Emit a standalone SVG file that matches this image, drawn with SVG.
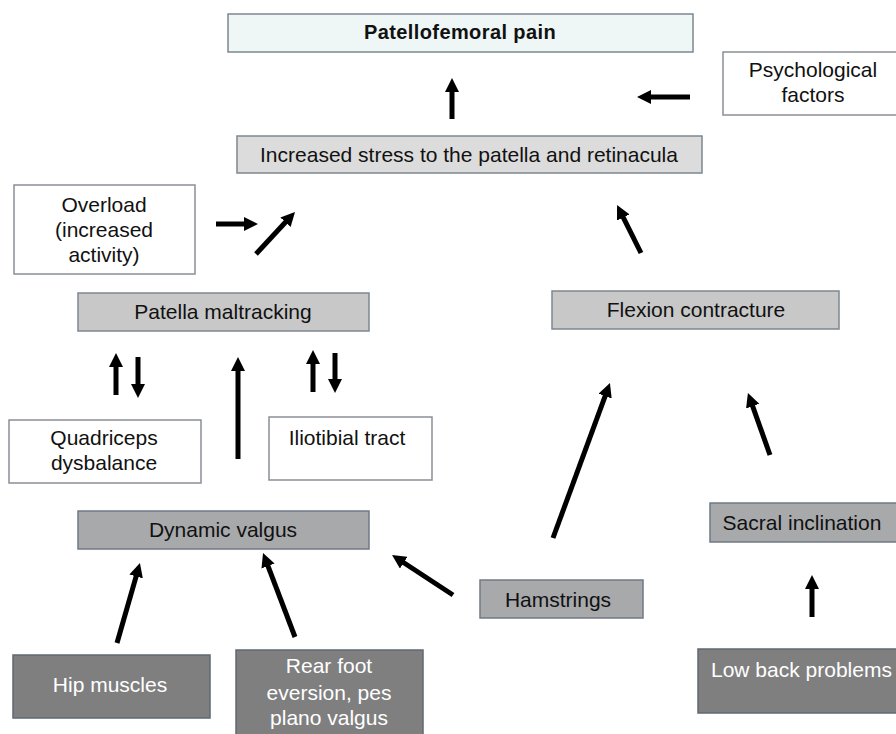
<svg xmlns="http://www.w3.org/2000/svg" width="896" height="734" viewBox="0 0 896 734">
<defs>
<style>
text{font-family:"Liberation Sans",Arial,sans-serif;font-size:21px;fill:#111;text-anchor:middle}
.b{font-weight:bold;font-size:20px;letter-spacing:0.4px}
.w{fill:#fff}
rect{stroke-width:1.5}
.wh{fill:#fff;stroke:#8a8f96}
.pf{fill:#eef6f6;stroke:#7d8791}
.l1{fill:#dcdcdc;stroke:#7d8791}
.l2{fill:#c8c8c8;stroke:#7d8791}
.l3{fill:#a8a9ab;stroke:#6f7985}
.d{fill:#7f7f7f;stroke:#5f6873}
#connectors line{stroke:#000;stroke-width:5;marker-end:url(#ah)}
</style>
<marker id="ah" markerUnits="userSpaceOnUse" markerWidth="14" markerHeight="14" viewBox="0 0 14 14" refX="4" refY="7" orient="auto"><path d="M0,0 L14,7 L0,14 z" fill="#000"/></marker>
</defs>
<rect width="896" height="734" fill="#fff"/>
<g id="pf"><rect class="pf" x="228" y="14" width="465" height="38"/><text class="b" x="460" y="39">Patellofemoral pain</text></g>
<g id="psych"><rect class="wh" x="723" y="52" width="180" height="63"/><text x="813" y="77">Psychological</text><text x="813" y="102">factors</text></g>
<g id="stress"><rect class="l1" x="237" y="136" width="465" height="37"/><text x="469" y="162">Increased stress to the patella and retinacula</text></g>
<g id="overload"><rect class="wh" x="14" y="185" width="181" height="89"/><text x="104" y="212">Overload</text><text x="104" y="237">(increased</text><text x="104" y="262">activity)</text></g>
<g id="maltracking"><rect class="l2" x="78" y="293" width="291" height="38"/><text x="223" y="319">Patella maltracking</text></g>
<g id="flexion"><rect class="l2" x="552" y="291" width="287" height="38"/><text x="696" y="317">Flexion contracture</text></g>
<g id="quadriceps"><rect class="wh" x="9" y="420" width="192" height="63"/><text x="104" y="445">Quadriceps</text><text x="104" y="470">dysbalance</text></g>
<g id="itb"><rect class="wh" x="269" y="417" width="163" height="63"/><text x="347" y="445">Iliotibial tract</text></g>
<g id="valgus"><rect class="l3" x="78" y="511" width="291" height="38"/><text x="223" y="537">Dynamic valgus</text></g>
<g id="sacral"><rect class="l3" x="710" y="503" width="195" height="39"/><text x="802" y="530">Sacral inclination</text></g>
<g id="hamstrings"><rect class="l3" x="480" y="580" width="163" height="38"/><text x="558" y="607">Hamstrings</text></g>
<g id="hip"><rect class="d" x="13" y="655" width="197" height="63"/><text class="w" x="110" y="692">Hip muscles</text></g>
<g id="rearfoot"><rect class="d" x="236" y="650" width="187" height="95"/><text class="w" x="329" y="673">Rear foot</text><text class="w" x="329" y="700">eversion, pes</text><text class="w" x="329" y="725">plano valgus</text></g>
<g id="lowback"><rect class="d" x="698" y="649" width="210" height="64"/><text class="w" x="711" y="677" style="text-anchor:start">Low back problems</text></g>
<g id="connectors">
<line x1="452" y1="119" x2="452" y2="88"/>
<line x1="690" y1="97" x2="647" y2="97"/>
<line x1="216" y1="224" x2="248" y2="224"/>
<line x1="256" y1="254" x2="288.2" y2="219.3"/>
<line x1="116" y1="395" x2="116" y2="363"/>
<line x1="138" y1="357" x2="138" y2="388"/>
<line x1="313" y1="392" x2="313" y2="360"/>
<line x1="335" y1="353" x2="335" y2="383"/>
<line x1="238" y1="459" x2="238" y2="367"/>
<line x1="641" y1="253" x2="621.5" y2="213.9"/>
<line x1="553" y1="538" x2="606.5" y2="392.4"/>
<line x1="770" y1="455" x2="751.3" y2="402.4"/>
<line x1="453" y1="595" x2="400.4" y2="560.5"/>
<line x1="812" y1="617" x2="812" y2="585"/>
<line x1="117" y1="643" x2="137.2" y2="572.6"/>
<line x1="295" y1="637" x2="266.6" y2="562.3"/>
</g>
</svg>
